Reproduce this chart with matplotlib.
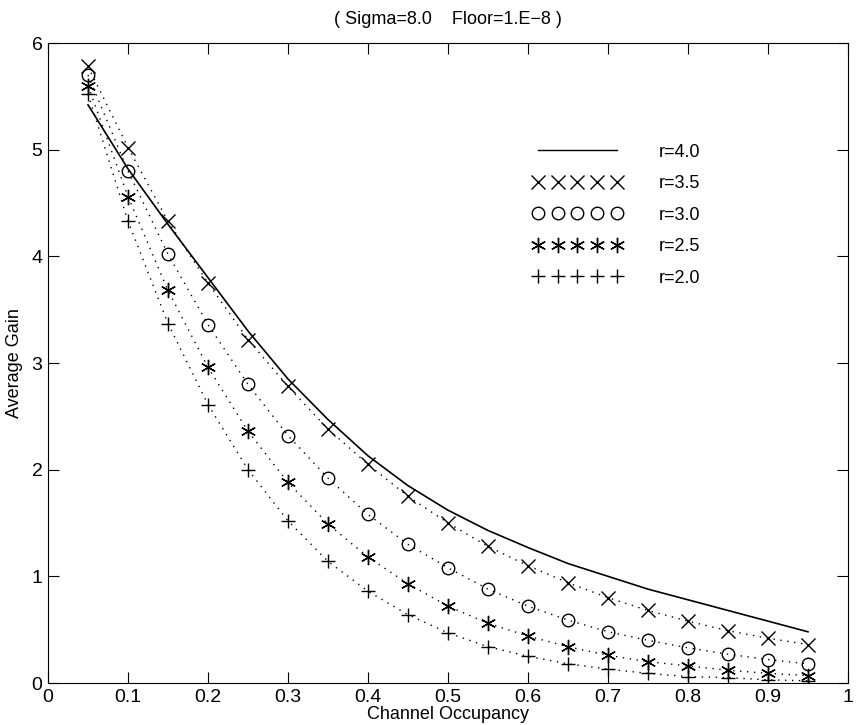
import matplotlib
matplotlib.use("Agg")
import matplotlib.pyplot as plt
from matplotlib.lines import Line2D

plt.rcParams['font.family'] = ['Liberation Sans Narrow', 'Liberation Sans', 'DejaVu Sans']

occupancy = [0.05, 0.10, 0.15, 0.20, 0.25, 0.30, 0.35, 0.40, 0.45, 0.50,
             0.55, 0.60, 0.65, 0.70, 0.75, 0.80, 0.85, 0.90, 0.95]

gain_r40 = [5.42, 4.82, 4.30, 3.80, 3.30, 2.85, 2.47, 2.13, 1.85, 1.62,
            1.43, 1.27, 1.12, 1.00, 0.88, 0.78, 0.68, 0.58, 0.48]
gain_r35 = [5.78, 5.02, 4.33, 3.75, 3.22, 2.78, 2.38, 2.05, 1.75, 1.50,
            1.28, 1.10, 0.94, 0.80, 0.68, 0.58, 0.49, 0.42, 0.36]
gain_r30 = [5.70, 4.80, 4.02, 3.36, 2.80, 2.32, 1.92, 1.58, 1.30, 1.08,
            0.88, 0.72, 0.59, 0.48, 0.40, 0.33, 0.27, 0.22, 0.18]
gain_r25 = [5.60, 4.56, 3.68, 2.96, 2.36, 1.88, 1.49, 1.18, 0.93, 0.72,
            0.56, 0.44, 0.34, 0.26, 0.20, 0.16, 0.12, 0.09, 0.07]
gain_r20 = [5.52, 4.33, 3.37, 2.61, 2.00, 1.52, 1.14, 0.86, 0.64, 0.47,
            0.34, 0.25, 0.18, 0.13, 0.09, 0.06, 0.05, 0.03, 0.02]

labels = ['r=4.0', 'r=3.5', 'r=3.0', 'r=2.5', 'r=2.0']
title_text = '( Sigma=8.0    Floor=1.E\u22128 )'
x_ticks = [0, 0.1, 0.2, 0.3, 0.4, 0.5, 0.6, 0.7, 0.8, 0.9, 1]
x_ticklabels = ['0', '0.1', '0.2', '0.3', '0.4', '0.5', '0.6', '0.7', '0.8', '0.9', '1']
y_ticks = [0, 1, 2, 3, 4, 5, 6]

fig = plt.figure(figsize=(8.64, 7.25), dpi=100)
ax = fig.add_axes([48/864, 1 - 683/725, 800/864, (683-43)/725])

dot = (0, (1, 4))
ax.plot(occupancy, gain_r40, color='black', lw=1.2, ls='-')
series = [(gain_r35, 'x', 10), (gain_r30, 'o', 9), (gain_r25, (6, 2, 0), 11), (gain_r20, '+', 10)]
for vals, mk, ms in series:
    ax.plot(occupancy, vals, color='black', lw=1.0, ls=dot)
    ax.plot(occupancy, vals, color='black', ls='none', marker=mk, ms=ms,
            mfc='none', mec='black', mew=1.0)

ax.set_xlim(0, 1)
ax.set_ylim(0, 6)
ax.set_xticks(x_ticks)
ax.set_xticklabels(x_ticklabels)
ax.set_yticks(y_ticks)
ax.tick_params(direction='in', top=True, right=True, length=8, width=0.8, labelsize=14, pad=4)
for s in ax.spines.values():
    s.set_linewidth(0.8)
ax.set_xlabel('Channel Occupancy', fontsize=13, labelpad=0)
ax.set_ylabel('Average Gain', fontsize=13, labelpad=6)
ax.set_title(title_text, fontsize=13, pad=14)

handles = [Line2D([], [], color='black', lw=1.0, ls='-')]
for vals, mk, ms in series:
    handles.append(Line2D([], [], color='black', ls='none', marker=mk, ms=ms,
                          mfc='none', mec='black', mew=1.0))
ax.legend(handles, labels, loc='upper left', bbox_to_anchor=(0.585, 0.868),
          frameon=False, numpoints=5, handlelength=5.0, handletextpad=2.0,
          labelspacing=0.8, fontsize=13)

fig.savefig('out.png', dpi=100)
